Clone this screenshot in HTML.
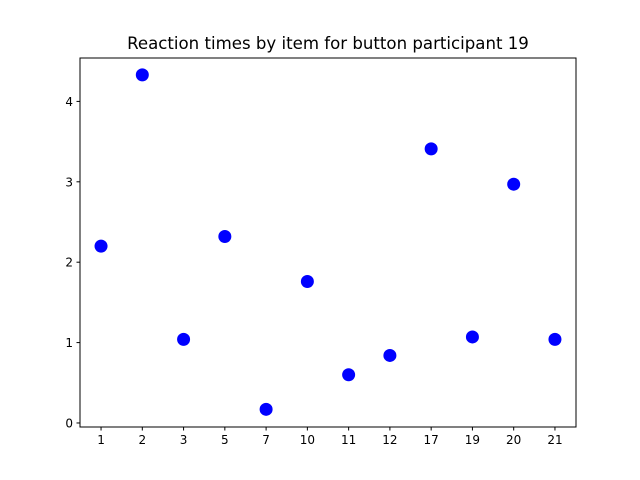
<!DOCTYPE html>
<html><head><meta charset="utf-8">
<style>
html,body{margin:0;padding:0;background:#fff;}
svg{display:block;font-family:"DejaVu Sans","Liberation Sans",sans-serif;}
</style></head>
<body>
<svg id="chart" width="640" height="480" viewBox="0 0 640 480">
<rect x="0" y="0" width="640" height="480" fill="#fff"/>
<text x="328" y="49" text-anchor="middle" font-size="16.6" fill="#000">Reaction times by item for button participant 19</text>
<g id="marks"></g>
<rect x="80" y="58" width="496" height="369" fill="none" stroke="#000" stroke-width="1"/>
</svg>
<script>
const categories = ["1","2","3","5","7","10","11","12","17","19","20","21"];
const values = [2.20, 4.33, 1.04, 2.32, 0.17, 1.76, 0.60, 0.84, 3.41, 1.07, 2.97, 1.04];
const yTicks = [0, 1, 2, 3, 4];

const L = 80, R = 576, T = 58, B = 427;
const xMin = -0.51, xMax = categories.length - 1 + 0.51;
const yMin = -0.05, yMax = 4.54;
function xs(i){ return L + (i - xMin) / (xMax - xMin) * (R - L); }
function ys(v){ return B - (v - yMin) / (yMax - yMin) * (B - T); }

const NS = "http://www.w3.org/2000/svg";
const g = document.getElementById("marks");
function mk(tag, attrs){ const e = document.createElementNS(NS, tag); for (const k in attrs) e.setAttribute(k, attrs[k]); g.appendChild(e); return e; }

categories.forEach((c, i) => {
  const x = xs(i);
  const t = mk("line", {x1:x, x2:x, y1:B, y2:B+3.5, stroke:"#000"});
  
  
  const lb = mk("text", {x:x, y:B+17, "text-anchor":"middle", "font-size":"12"});
  lb.textContent = c;
  
  
});
yTicks.forEach(v => {
  const y = ys(v);
  const t = mk("line", {x1:L-3.5, x2:L, y1:y, y2:y, stroke:"#000"});
  
  
  const lb = mk("text", {x:L-7, y:y+4.5, "text-anchor":"end", "font-size":"12"});
  lb.textContent = String(v);
  
  
});
values.forEach((v, i) => {
  const p = mk("circle", {cx:xs(i), cy:ys(v), r:6.5, fill:"#0000ff"});
  
  
});
</script>
</body></html>
